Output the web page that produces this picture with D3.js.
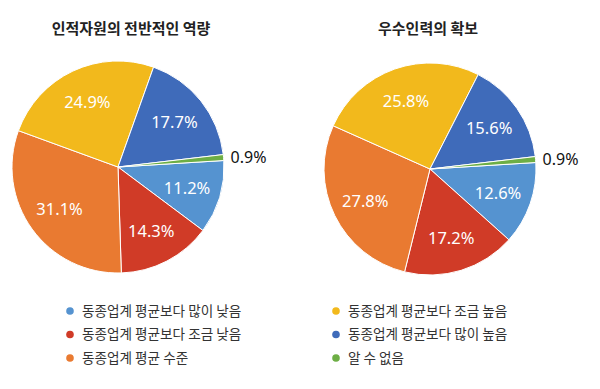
<!DOCTYPE html>
<html>
<head>
<meta charset="utf-8">
<script src="https://cdn.jsdelivr.net/npm/d3@7"></script>
<style>
  body { margin: 0; background: #fff; }
  svg { display: block; font-family: "Noto Sans CJK KR", "Noto Sans", sans-serif; }
</style>
</head>
<body>
<div id="box"></div>
<script>
var w = 600,
    h = 389;

// legend / slice order (clockwise from about 3 o'clock)
var categories = [
  "동종업계 평균보다 많이 낮음",
  "동종업계 평균보다 조금 낮음",
  "동종업계 평균 수준",
  "동종업계 평균보다 조금 높음",
  "동종업계 평균보다 많이 높음",
  "알 수 없음"
];
var colors = ["#5593D0", "#D03B27", "#E97A31", "#F2B91C", "#3F6BBA", "#6DAE45"];

var titles = ["인적자원의 전반적인 역량", "우수인력의 확보"];
var overallValues = [11.2, 14.3, 31.1, 24.9, 17.7, 0.9];
var talentValues  = [12.6, 17.2, 27.8, 25.8, 15.6, 0.9];

var charts = [
  { title: titles[0], values: overallValues, cx: 118, cy: 167, tx: 131 },
  { title: titles[1], values: talentValues,  cx: 430, cy: 169, tx: 428 }
];

var r = 106;
var start = 86.5 * Math.PI / 180;

var svg = d3.select("#box")
            .append("svg")
            .attr("width", w)
            .attr("height", h);

var pie = d3.pie()
            .sort(null)
            .value(function(d) { return d; })
            .startAngle(start)
            .endAngle(start + 2 * Math.PI);

var arc = d3.arc().innerRadius(0).outerRadius(r);
var labelArc = d3.arc().innerRadius(r * 0.68).outerRadius(r * 0.68);

charts.forEach(function(c) {
  var g = svg.append("g")
             .attr("transform", "translate(" + c.cx + "," + c.cy + ")");

  var arcs = pie(c.values);

  g.selectAll("path")
   .data(arcs)
   .enter()
   .append("path")
   .attr("d", arc)
   .attr("fill", function(d, i) { return colors[i]; })
   .attr("stroke", "#fff")
   .attr("stroke-width", 1);

  g.selectAll("text.pct")
   .data(arcs)
   .enter()
   .append("text")
   .attr("class", "pct")
   .attr("transform", function(d) {
     if (d.data < 2) {
       var a = (d.startAngle + d.endAngle) / 2;
       return "translate(" + (Math.sin(a) * (r + 7)) + "," + (-Math.cos(a) * (r + 7)) + ")";
     }
     return "translate(" + labelArc.centroid(d) + ")";
   })
   .attr("text-anchor", function(d) { return d.data < 2 ? "start" : "middle"; })
   .attr("dy", "0.36em")
   .attr("font-family", "'Noto Sans', sans-serif")
   .attr("font-size", function(d) { return d.data < 2 ? "16px" : "16.5px"; })
   .attr("fill", function(d) { return d.data < 2 ? "#111" : "#fff"; })
   .text(function(d) { return d.data.toFixed(1) + "%"; });

  svg.append("text")
     .attr("x", c.tx)
     .attr("y", 29)
     .attr("dy", "0.36em")
     .attr("text-anchor", "middle")
     .attr("font-size", "15px")
     .attr("font-weight", 600)
     .attr("fill", "#222")
     .text(c.title);
});

// legend, two columns of three
var legend = svg.selectAll("g.legend")
                .data(categories)
                .enter()
                .append("g")
                .attr("class", "legend")
                .attr("transform", function(d, i) {
                  var x = i < 3 ? 70 : 336;
                  var y = 311 + (i % 3) * 23.5;
                  return "translate(" + x + "," + y + ")";
                });

legend.append("circle")
      .attr("r", 3.8)
      .attr("fill", function(d, i) { return colors[i]; });

legend.append("text")
      .attr("x", 12)
      .attr("dy", "0.36em")
      .attr("font-size", "13.6px")
      .attr("fill", "#333")
      .text(function(d) { return d; });
</script>
</body>
</html>
